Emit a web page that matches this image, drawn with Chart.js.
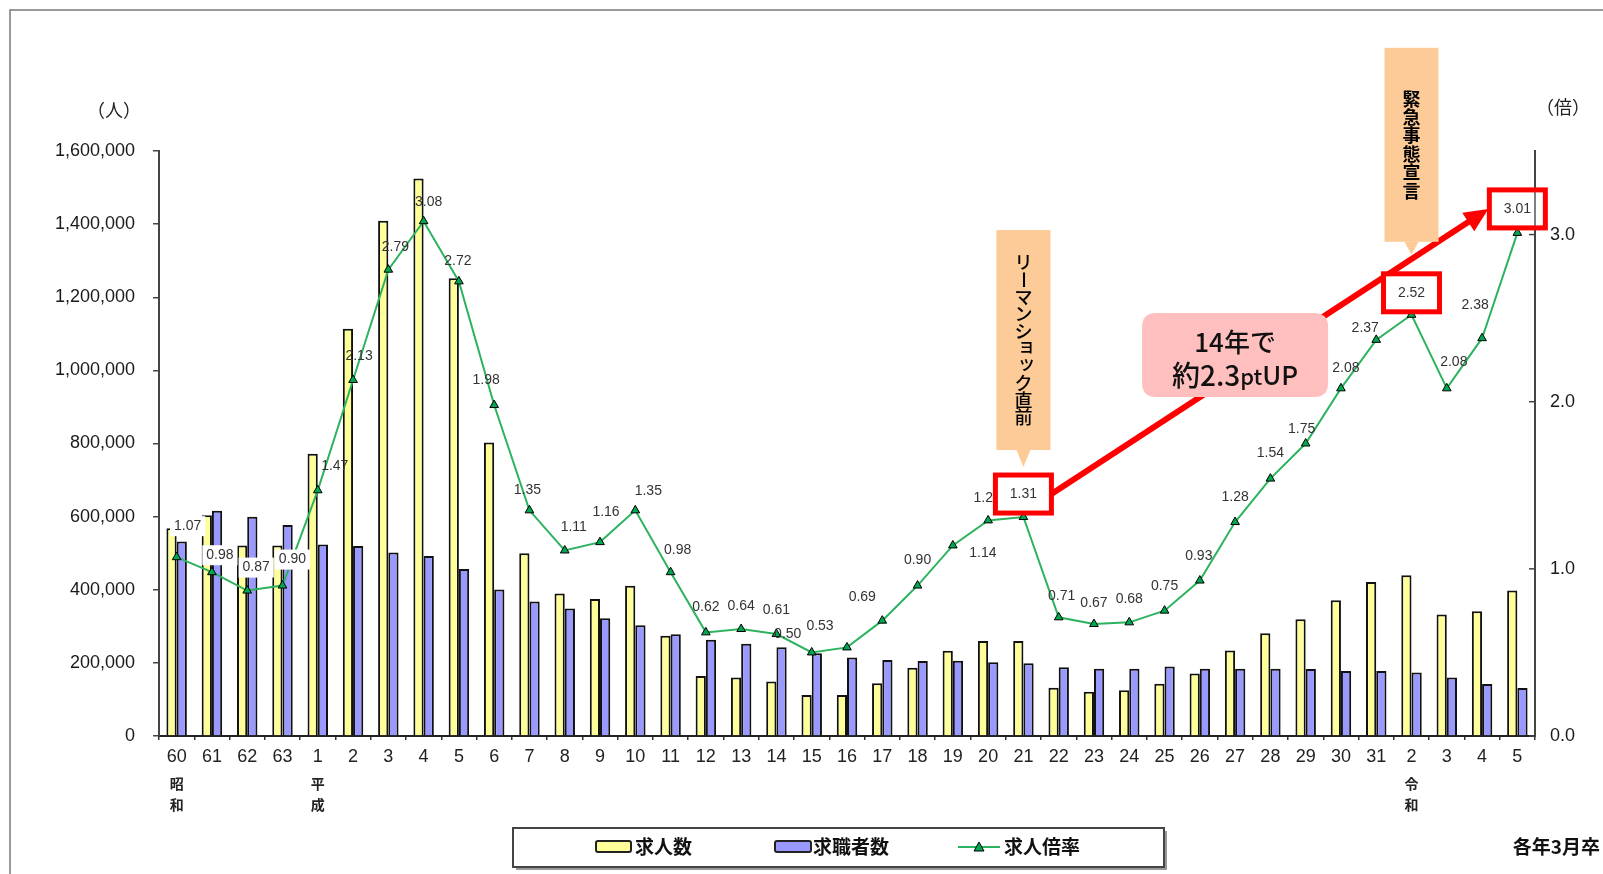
<!DOCTYPE html>
<html><head><meta charset="utf-8">
<script src="https://cdn.jsdelivr.net/npm/chart.js@4/dist/chart.umd.min.js"></script>
<style>html,body{margin:0;padding:0;background:#fff;}canvas{display:block;}</style>
</head><body>
<canvas id="c" width="1603" height="874"></canvas>
<script>
// ---- data ----
const categories = ['60','61','62','63','1','2','3','4','5','6','7','8','9','10','11','12','13','14','15','16','17','18','19','20','21','22','23','24','25','26','27','28','29','30','31','2','3','4','5'];
const jobOffers = [568000,604000,521000,521000,772000,1114000,1409000,1525000,1252000,803000,500000,390000,375000,411000,274000,164000,160000,149000,112000,112000,144000,187000,233000,260000,260000,132000,121000,125000,143000,171000,234000,281000,319000,371000,421000,440000,332000,341000,398000];
const jobSeekers = [532000,616000,600000,577000,524000,520000,502000,492000,457000,401000,368000,349000,322000,303000,278000,263000,252000,243000,226000,215000,208000,205000,206000,202000,199000,188000,184000,184000,190000,184000,184000,184000,183000,178000,178000,174000,160000,142000,131000];
const offerRatio = [1.07,0.98,0.87,0.90,1.47,2.13,2.79,3.08,2.72,1.98,1.35,1.11,1.16,1.35,0.98,0.62,0.64,0.61,0.50,0.53,0.69,0.90,1.14,1.29,1.31,0.71,0.67,0.68,0.75,0.93,1.28,1.54,1.75,2.08,2.37,2.52,2.08,2.38,3.01];
const leftTicks = [0,200000,400000,600000,800000,1000000,1200000,1400000,1600000];
const rightTicks = [0,1,2,3];
const eraLabels = {0:'昭和', 4:'平成', 35:'令和'};
const seriesNames = ['求人数','求職者数','求人倍率'];
const highlighted = [24, 35, 38];
const callouts = [{index:24, text:'リーマンショック直前'}, {index:35, text:'緊急事態宣言'}];
const noteLines = ['14年で', '約2.3ptUP'];
const noteAnchor = {index:30, ratio:2.28};
const unitLeft = '（人）', unitRight = '（倍）', footNote = '各年3月卒';

// ---- label nudges (style) ----
const nudge = {0:[11,-31],1:[8,-17],2:[9,-23],3:[10,-26],4:[17,-24],5:[6,-24],6:[7,-23],7:[5,-19],8:[-1,-20],9:[-8,-25],10:[-2,-20],11:[9,-23],12:[6,-30],13:[13,-19],14:[7,-22],15:[0,-25],17:[0,-24],18:[-24,-18],19:[-27,-21],20:[-20,-24],21:[0,-25],22:[30,8],23:[-1,-22],25:[3,-21],26:[0,-21],28:[0,-25],29:[-1,-24],30:[0,-25],31:[0,-25],32:[-4,-14],33:[5,-20],34:[-11,-12],35:[0,-22],36:[7,-26],37:[-7,-33],38:[0,-24]};
const calloutGeom = [{gap:8, tipH:17, h:220, step:17.2, font:"500 18px "}, {gap:19, tipH:13, h:194, step:18.4, font:"bold 18px "}];
const FONT = "'Liberation Sans','Noto Sans CJK JP',sans-serif";
const JFONT = "'Noto Sans CJK JP','Liberation Sans',sans-serif";

function roundRect(ctx,x,y,w,h,r){ctx.beginPath();ctx.moveTo(x+r,y);ctx.lineTo(x+w-r,y);ctx.quadraticCurveTo(x+w,y,x+w,y+r);ctx.lineTo(x+w,y+h-r);ctx.quadraticCurveTo(x+w,y+h,x+w-r,y+h);ctx.lineTo(x+r,y+h);ctx.quadraticCurveTo(x,y+h,x,y+h-r);ctx.lineTo(x,y+r);ctx.quadraticCurveTo(x,y,x+r,y);ctx.closePath();}

function drawVertical(ctx,text,cx,top,step,font){
  ctx.font=font;ctx.fillStyle='#000';ctx.textAlign='center';ctx.textBaseline='middle';
  [...text].forEach((ch,i)=>{
    const cy=top+step*(i+0.5);
    if(ch==='ー'){ctx.save();ctx.translate(cx,cy);ctx.rotate(Math.PI/2);ctx.fillText(ch,0,0);ctx.restore();}
    else if('ョッャュァィゥェォ'.includes(ch)){ctx.fillText(ch,cx+3,cy-3);}
    else ctx.fillText(ch,cx,cy);
  });
}

function labelPos(meta,i){const p=meta.data[i];const n=nudge[i]||[0,-23];return {x:p.x+n[0],y:p.y+n[1]};}

const overlay = {
  id:'overlay',
  beforeDraw(chart){
    const ctx=chart.ctx;ctx.save();
    ctx.strokeStyle='#7a7a7a';ctx.lineWidth=1.5;
    ctx.beginPath();ctx.moveTo(10,874);ctx.lineTo(10,10);ctx.lineTo(1603,10);ctx.stroke();
    ctx.restore();
  },
  afterDraw(chart){
    const ctx=chart.ctx;const xs=chart.scales.x, y1=chart.scales.y1;
    const meta=chart.getDatasetMeta(2);
    ctx.save();
    // right axis inward ticks
    ctx.strokeStyle='#444';ctx.lineWidth=1.5;
    rightTicks.forEach(v=>{const yy=y1.getPixelForValue(v);ctx.beginPath();ctx.moveTo(y1.left-6,yy);ctx.lineTo(y1.left,yy);ctx.stroke();});
    // era labels
    ctx.font="bold 14px "+JFONT;ctx.fillStyle='#222';ctx.textAlign='center';ctx.textBaseline='middle';
    Object.keys(eraLabels).forEach(k=>{const cx=xs.getPixelForValue(+k);const t=eraLabels[k];ctx.fillText(t[0],cx,784);ctx.fillText(t[1],cx,805);});
    // units
    ctx.font="18px "+JFONT;ctx.fillStyle='#222';
    ctx.fillText(unitLeft,114,110);ctx.fillText(unitRight,1563,107);
    // ratio labels
    ctx.font="14px "+FONT;
    offerRatio.forEach((v,i)=>{
      const p=labelPos(meta,i);const t=v.toFixed(2);
      if(i<4){const w=ctx.measureText(t).width+8;ctx.fillStyle='#fff';ctx.fillRect(p.x-w/2,p.y-10,w,20);}
      ctx.fillStyle='#333';ctx.fillText(t,p.x,p.y);
    });
    // arrow
    const b0=labelPos(meta,highlighted[0]), b2=labelPos(meta,highlighted[2]);
    const sx=b0.x+28, sy=b0.y, ex=b2.x-29, ey=b2.y;
    const ang=Math.atan2(ey-sy,ex-sx);
    ctx.strokeStyle='#ff0000';ctx.fillStyle='#ff0000';ctx.lineWidth=6;
    ctx.beginPath();ctx.moveTo(sx,sy);ctx.lineTo(ex-18*Math.cos(ang),ey-18*Math.sin(ang));ctx.stroke();
    ctx.beginPath();ctx.moveTo(ex,ey);
    ctx.lineTo(ex-24*Math.cos(ang)+11*Math.sin(ang),ey-24*Math.sin(ang)-11*Math.cos(ang));
    ctx.lineTo(ex-24*Math.cos(ang)-11*Math.sin(ang),ey-24*Math.sin(ang)+11*Math.cos(ang));
    ctx.closePath();ctx.fill();
    // red boxes
    highlighted.forEach(i=>{
      const p=labelPos(meta,i);
      ctx.fillStyle='#fff';ctx.fillRect(p.x-28,p.y-19,56,38);
      if(p.x+28>y1.left){ctx.strokeStyle='#555';ctx.lineWidth=1.5;ctx.beginPath();ctx.moveTo(y1.left,p.y-19);ctx.lineTo(y1.left,p.y+19);ctx.stroke();}
      ctx.strokeStyle='#ff0000';ctx.lineWidth=5;ctx.strokeRect(p.x-28,p.y-19,56,38);
      ctx.font="14px "+FONT;ctx.fillStyle='#333';ctx.textAlign='center';ctx.fillText(offerRatio[i].toFixed(2),p.x,p.y);
    });
    // callouts
    callouts.forEach((c,k)=>{
      const g=calloutGeom[k];
      const p=labelPos(meta,c.index);const cx=xs.getPixelForValue(c.index);
      const tip=p.y-19-g.gap; const bottom=tip-g.tipH; const h=g.h; const top=bottom-h;
      ctx.fillStyle='#fdcb98';
      ctx.fillRect(cx-27,top,54,h);
      ctx.beginPath();ctx.moveTo(cx-7,bottom);ctx.lineTo(cx+7,bottom);ctx.lineTo(cx,tip);ctx.closePath();ctx.fill();
      const n=[...c.text].length;
      drawVertical(ctx,c.text,cx,top+(h-n*g.step)/2,g.step,g.font+JFONT);
    });
    // pink note
    const nx=xs.getPixelForValue(noteAnchor.index), ny=y1.getPixelForValue(noteAnchor.ratio);
    ctx.fillStyle='#ffbfbf';roundRect(ctx,nx-93,ny-42,186,84,14);ctx.fill();
    ctx.fillStyle='#111';ctx.textBaseline='middle';ctx.textAlign='center';
    ctx.font="500 26px "+JFONT;ctx.fillText(noteLines[0],nx,ny-13);
    const parts=[[noteLines[1].slice(0,4),"500 28px "+JFONT],[noteLines[1].slice(4,6),"500 22px "+JFONT],[noteLines[1].slice(6),"500 26px "+JFONT]];
    let tw=0;parts.forEach(pp=>{ctx.font=pp[1];tw+=ctx.measureText(pp[0]).width;});
    let cxp=nx-tw/2;ctx.textAlign='left';
    parts.forEach(pp=>{ctx.font=pp[1];ctx.fillText(pp[0],cxp,ny+20+(pp[0]==='pt'?2:0));cxp+=ctx.measureText(pp[0]).width;});
    // legend
    ctx.fillStyle='#999';ctx.fillRect(516,831,651,39);
    ctx.fillStyle='#fff';ctx.fillRect(513,828,651,39);
    ctx.strokeStyle='#444';ctx.lineWidth=2;ctx.strokeRect(513,828,651,39);
    const ly=847;
    ctx.lineWidth=2;ctx.strokeStyle='#222';
    ctx.fillStyle='#ffff99';roundRect(ctx,596,841,35,11,2);ctx.fill();ctx.stroke();
    ctx.fillStyle='#9999ff';roundRect(ctx,775,841,36,11,2);ctx.fill();ctx.stroke();
    ctx.strokeStyle='#2db35f';ctx.lineWidth=2;ctx.beginPath();ctx.moveTo(958,ly);ctx.lineTo(1000,ly);ctx.stroke();
    ctx.fillStyle='#00a650';ctx.strokeStyle='#000';ctx.lineWidth=1;ctx.beginPath();ctx.moveTo(979,ly-5);ctx.lineTo(984,ly+4);ctx.lineTo(974,ly+4);ctx.closePath();ctx.fill();ctx.stroke();
    ctx.fillStyle='#111';ctx.font="bold 19px "+JFONT;ctx.textAlign='left';ctx.textBaseline='middle';
    ctx.fillText(seriesNames[0],635,ly);ctx.fillText(seriesNames[1],813,ly);ctx.fillText(seriesNames[2],1004,ly);
    ctx.textAlign='right';ctx.fillText(footNote,1600,ly);
    ctx.restore();
  }
};

new Chart(document.getElementById('c'),{
  data:{labels:categories,datasets:[
    {type:'bar',label:seriesNames[0],data:jobOffers,yAxisID:'y',backgroundColor:'#ffff99',borderColor:'#111',borderWidth:2,categoryPercentage:0.58,barPercentage:1.0,order:2},
    {type:'bar',label:seriesNames[1],data:jobSeekers,yAxisID:'y',backgroundColor:'#9999ff',borderColor:'#111',borderWidth:2,categoryPercentage:0.58,barPercentage:1.0,order:2},
    {type:'line',label:seriesNames[2],data:offerRatio,yAxisID:'y1',borderColor:'#2db35f',borderWidth:2,tension:0,pointStyle:'triangle',pointRadius:5,pointBackgroundColor:'#00a650',pointBorderColor:'#000',pointBorderWidth:1,order:0}
  ]},
  options:{
    responsive:false,devicePixelRatio:1,animation:false,
    layout:{padding:{top:151,left:0,right:0,bottom:0}},
    plugins:{legend:{display:false},tooltip:{enabled:false}},
    font:{family:FONT},
    scales:{
      x:{offset:true,grid:{display:true,drawOnChartArea:false,offset:true,tickLength:4,color:'#333',lineWidth:1.5},border:{display:true,color:'#222',width:2},
         ticks:{autoSkip:false,maxRotation:0,minRotation:0,padding:6,color:'#222',font:{size:18,family:FONT}},
         afterFit(s){s.height=138;}},
      y:{position:'left',min:0,max:1600000,afterBuildTicks(s){s.ticks=leftTicks.map(v=>({value:v}));},
         grid:{drawOnChartArea:false,tickLength:6,color:'#444',lineWidth:1.5},border:{color:'#444',width:2},
         ticks:{padding:18,color:'#1a1a1a',font:{size:18,family:FONT},callback:v=>v.toLocaleString('en-US')},
         afterFit(s){s.width=159;}},
      y1:{position:'right',min:0,max:3.5,afterBuildTicks(s){s.ticks=rightTicks.map(v=>({value:v}));},
         grid:{drawOnChartArea:false,drawTicks:false},border:{color:'#444',width:2},
         ticks:{padding:15,color:'#1a1a1a',font:{size:18,family:FONT},callback:v=>v.toFixed(1)},
         afterFit(s){s.width=68;}}
    }
  },
  plugins:[overlay]
});
</script>
</body></html>
